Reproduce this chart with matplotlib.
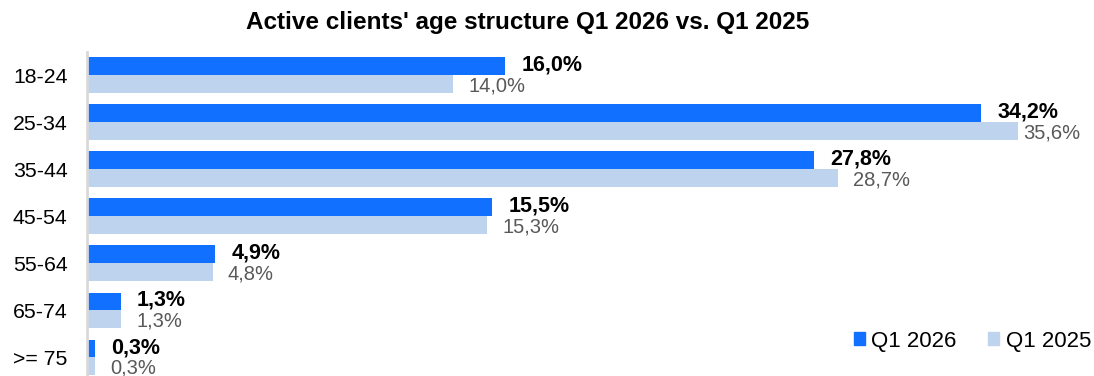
import numpy as np
import matplotlib
matplotlib.use("Agg")
from matplotlib import pyplot as plt
from matplotlib.patches import Patch

plt.rcParams['font.family'] = ['Liberation Sans', 'DejaVu Sans']

age_groups = ["18-24", "25-34", "35-44", "45-54", "55-64", "65-74", ">= 75"]
q1_2026 = [16.0, 34.2, 27.8, 15.5, 4.9, 1.3, 0.3]
q1_2025 = [14.0, 35.6, 28.7, 15.3, 4.8, 1.3, 0.3]
series_names = ["Q1 2026", "Q1 2025"]

blue = "#1170FF"
light = "#BDD3EE"

fig = plt.figure(figsize=(10.94, 3.76), dpi=100)
ax = fig.add_axes([87 / 1094, 1 - 381 / 376, (1090 - 87) / 1094, 329 / 376])

y = np.arange(len(age_groups))
h = 0.38
ax.barh(y - h / 2, q1_2026, height=h, color=blue)
ax.barh(y + h / 2, q1_2025, height=h, color=light)

ax.set_xlim(0, 38.35)
ax.set_ylim(6.5, -0.49)

# value labels, comma as decimal separator
for i in range(len(age_groups)):
    ax.annotate(f"{q1_2026[i]:.1f}%".replace(".", ","), (q1_2026[i], y[i] - h / 2),
                xytext=(16, 1), textcoords="offset pixels",
                ha="left", va="center", fontsize=15.5, fontweight="bold",
                color="black", annotation_clip=False)
    # the longest light bar sits close to the edge, so its label hugs the bar
    dx = 5 if q1_2025[i] == max(q1_2025) else 15
    ax.annotate(f"{q1_2025[i]:.1f}%".replace(".", ","), (q1_2025[i], y[i] + h / 2),
                xytext=(dx, -2), textcoords="offset pixels",
                ha="left", va="center", fontsize=14.5, color="#595959",
                annotation_clip=False)

ax.set_yticks(y)
ax.set_yticklabels(age_groups, fontsize=15.3)
ax.tick_params(axis="y", length=0, pad=14)
ax.set_xticks([])
for side in ["top", "right", "bottom"]:
    ax.spines[side].set_visible(False)
ax.spines["left"].set_color("#D9D9D9")
ax.spines["left"].set_linewidth(2)

handles = [Patch(color=blue), Patch(color=light)]
fig.legend(handles, series_names, loc="center right",
           bbox_to_anchor=(1 + 17 / 1094, 1 - 341 / 376),
           ncol=2, frameon=False, fontsize=16, handlelength=0.5, handleheight=0.5,
           handletextpad=0.3, columnspacing=1.4)

fig.text(528 / 1094, 1 - 22 / 376, "Active clients' age structure Q1 2026 vs. Q1 2025",
         ha="center", va="center", fontsize=17.5, fontweight="bold")

fig.savefig("out.png", dpi=100)
